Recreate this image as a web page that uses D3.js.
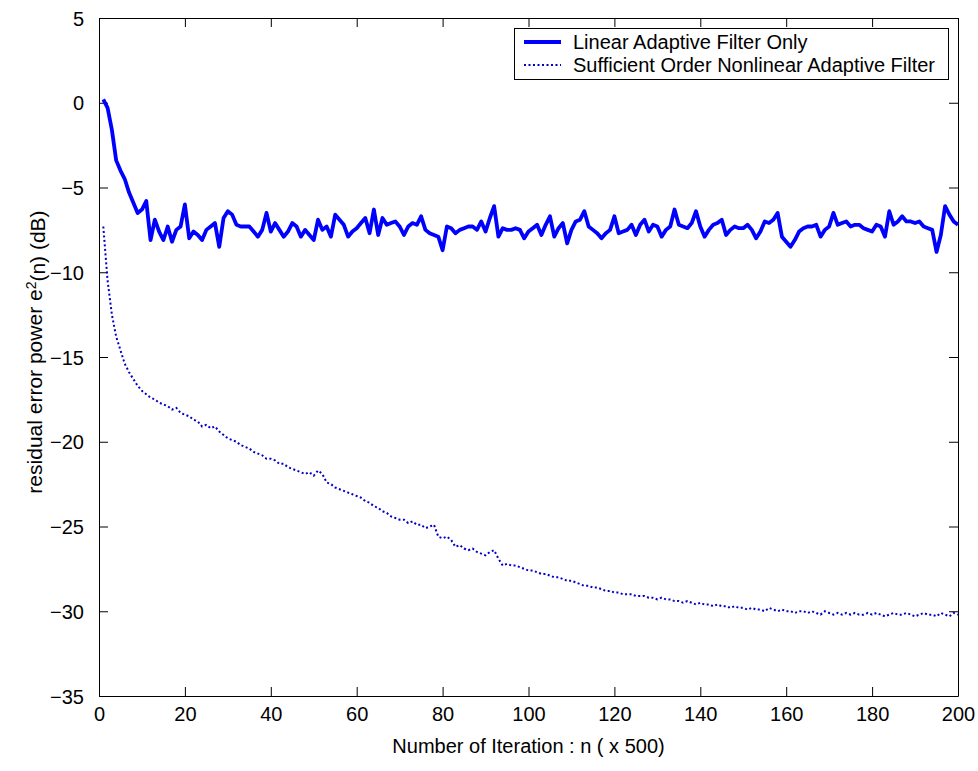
<!DOCTYPE html>
<html><head><meta charset="utf-8">
<script src="https://cdn.jsdelivr.net/npm/d3@7"></script>
<style>body{margin:0;background:#fff}svg{display:block}text{font-family:"Liberation Sans",Arial,sans-serif;fill:#000}</style>
</head><body><svg id="c" width="978" height="771"></svg>
<script>
const seriesNames = ["Linear Adaptive Filter Only", "Sufficient Order Nonlinear Adaptive Filter"];
const xTicks = [0,20,40,60,80,100,120,140,160,180,200];
const yTicks = [5,0,-5,-10,-15,-20,-25,-30,-35];
const linearOnly = [
0.2,-0.3,-1.6,-3.4,-4.0,-4.5,-5.3,-5.9,-6.5,-6.3,
-5.8,-8.1,-6.9,-7.6,-8.1,-7.3,-8.2,-7.5,-7.3,-6.0,
-8.0,-7.6,-7.8,-8.1,-7.5,-7.3,-7.1,-8.5,-6.8,-6.4,
-6.6,-7.2,-7.3,-7.3,-7.3,-7.6,-7.9,-7.5,-6.5,-7.6,
-7.1,-7.5,-7.9,-7.6,-7.1,-7.3,-7.9,-7.5,-7.8,-8.1,
-6.9,-7.5,-7.3,-7.9,-6.6,-6.9,-7.2,-7.9,-7.6,-7.4,
-7.1,-6.8,-7.7,-6.3,-7.8,-6.8,-7.2,-7.1,-7.0,-7.3,
-7.8,-7.3,-7.1,-7.2,-6.7,-7.5,-7.7,-7.8,-7.9,-8.7,
-7.3,-7.4,-7.7,-7.5,-7.4,-7.3,-7.3,-7.5,-7.0,-7.6,
-6.8,-6.1,-7.9,-7.4,-7.5,-7.5,-7.4,-7.5,-8.0,-7.6,
-7.4,-7.2,-7.8,-7.2,-6.7,-7.9,-7.4,-7.1,-8.3,-7.5,
-7.0,-6.9,-6.4,-7.3,-7.5,-7.7,-8.0,-7.7,-7.5,-6.7,
-7.7,-7.6,-7.5,-7.2,-7.8,-7.2,-6.9,-7.6,-7.2,-7.3,
-7.9,-7.5,-7.3,-6.3,-7.2,-7.3,-7.4,-7.1,-6.4,-7.3,
-7.9,-7.5,-7.2,-7.1,-6.9,-7.8,-7.5,-7.3,-7.4,-7.4,
-7.2,-7.5,-8.0,-7.6,-7.0,-7.1,-6.9,-6.5,-7.9,-8.2,
-8.5,-8.1,-7.6,-7.4,-7.3,-7.3,-7.2,-7.9,-7.5,-7.3,
-6.5,-7.2,-7.1,-7.0,-7.3,-7.2,-7.2,-7.4,-7.5,-7.6,
-7.2,-7.3,-7.9,-6.4,-7.2,-7.0,-6.7,-7.0,-7.0,-7.1,
-7.0,-7.3,-7.4,-7.5,-8.8,-7.8,-6.1,-6.6,-7.0,-7.2];
const nonlinear = [
-7.3,-10.5,-12.5,-13.8,-14.6,-15.4,-15.9,-16.3,-16.7,-17.0,
-17.2,-17.4,-17.5,-17.7,-17.8,-17.9,-18.1,-18.0,-18.3,-18.4,
-18.5,-18.7,-18.8,-19.1,-19.0,-19.2,-19.1,-19.4,-19.6,-19.8,
-19.9,-20.0,-20.2,-20.3,-20.4,-20.6,-20.7,-20.8,-21.0,-21.0,
-21.1,-21.3,-21.3,-21.5,-21.6,-21.7,-21.8,-21.9,-21.8,-22.0,
-21.7,-21.9,-22.4,-22.5,-22.7,-22.8,-22.9,-23.0,-23.1,-23.2,
-23.3,-23.5,-23.6,-23.8,-23.9,-24.1,-24.2,-24.4,-24.5,-24.6,
-24.6,-24.8,-24.7,-24.9,-24.9,-25.1,-25.0,-24.9,-25.6,-25.7,
-25.6,-25.8,-26.2,-26.1,-26.3,-26.4,-26.3,-26.5,-26.6,-26.7,
-26.5,-26.4,-26.9,-27.3,-27.2,-27.3,-27.3,-27.4,-27.5,-27.6,
-27.6,-27.7,-27.8,-27.8,-27.9,-28.0,-28.0,-28.1,-28.2,-28.2,
-28.3,-28.4,-28.5,-28.5,-28.6,-28.6,-28.7,-28.8,-28.8,-28.9,
-28.9,-29.0,-29.0,-29.0,-29.1,-29.1,-29.1,-29.2,-29.2,-29.3,
-29.2,-29.3,-29.3,-29.4,-29.4,-29.5,-29.4,-29.5,-29.6,-29.5,
-29.6,-29.6,-29.7,-29.6,-29.7,-29.7,-29.8,-29.7,-29.8,-29.8,
-29.9,-29.8,-29.9,-29.9,-30.0,-29.8,-29.9,-30.0,-29.9,-30.0,
-30.0,-30.1,-30.0,-30.0,-30.1,-30.0,-30.1,-30.2,-30.0,-30.1,
-30.2,-30.1,-30.2,-30.1,-30.2,-30.1,-30.2,-30.2,-30.1,-30.2,
-30.1,-30.2,-30.3,-30.2,-30.1,-30.2,-30.2,-30.1,-30.2,-30.3,
-30.2,-30.1,-30.2,-30.2,-30.3,-30.1,-30.2,-30.3,-30.1,-30.2];

const L = 99, R = 958, T = 18, B = 696;
const svg = d3.select("#c");
const x = d3.scaleLinear().domain([0,200]).range([L,R]);
const y = d3.scaleLinear().domain([-35,5]).range([B,T]);
const fs = "20px";

const gB = svg.append("g").attr("transform",`translate(0,${B})`)
  .call(d3.axisBottom(x).tickValues(xTicks).tickSizeInner(-9).tickSizeOuter(0).tickPadding(11));
const gT = svg.append("g").attr("transform",`translate(0,${T})`)
  .call(d3.axisTop(x).tickValues(xTicks).tickSizeInner(-9).tickSizeOuter(0).tickFormat(""));
const gL = svg.append("g").attr("transform",`translate(${L},0)`)
  .call(d3.axisLeft(y).tickValues(yTicks).tickSizeInner(-9).tickSizeOuter(0).tickPadding(15));
const gR = svg.append("g").attr("transform",`translate(${R},0)`)
  .call(d3.axisRight(y).tickValues(yTicks).tickSizeInner(-9).tickSizeOuter(0).tickFormat(""));
[gB,gT,gL,gR].forEach(g=>{
  g.select(".domain").attr("stroke","#000").attr("stroke-width",1);
  g.selectAll(".tick line").attr("stroke","#000");
  g.selectAll("text").style("font-size",fs).style("font-family",'"Liberation Sans",Arial,sans-serif').attr("fill","#000");
});
gB.selectAll(".tick text").attr("dy","0.71em");
gL.selectAll(".tick text").attr("dy","0.36em");

const line = d3.line().x((d,i)=>x(i+1)).y(d=>y(d));
svg.append("path").datum(nonlinear).attr("d",line).attr("fill","none")
  .attr("stroke","#0000c8").attr("stroke-width",2).attr("stroke-dasharray","2,2.5");
svg.append("path").datum(linearOnly).attr("d",line).attr("fill","none")
  .attr("stroke","#0000ff").attr("stroke-width",3.8).attr("stroke-linejoin","round");

const lg = svg.append("g");
lg.append("rect").attr("x",514.5).attr("y",28.5).attr("width",434).attr("height",51)
  .attr("fill","#fff").attr("stroke","#000").attr("stroke-width",1);
lg.append("line").attr("x1",524).attr("x2",561).attr("y1",42).attr("y2",42)
  .attr("stroke","#0000ff").attr("stroke-width",3.8);
lg.append("line").attr("x1",524).attr("x2",561).attr("y1",65).attr("y2",65)
  .attr("stroke","#0000c8").attr("stroke-width",2).attr("stroke-dasharray","2,2.5");
lg.append("text").attr("x",573).attr("y",49).style("font-size",fs).text(seriesNames[0]);
lg.append("text").attr("x",573).attr("y",72).style("font-size",fs).text(seriesNames[1]);

svg.append("text").attr("x",(L+R)/2).attr("y",753).attr("text-anchor","middle")
  .style("font-size",fs).text("Number of Iteration : n ( x 500)");
const yl = svg.append("text").attr("transform","translate(42,352) rotate(-90)")
  .attr("text-anchor","middle").style("font-size","21px");
yl.append("tspan").text("residual error power e");
yl.append("tspan").attr("dy","-0.45em").style("font-size","14px").text("2");
yl.append("tspan").attr("dy","0.45em").text("(n) (dB)");
</script></body></html>
